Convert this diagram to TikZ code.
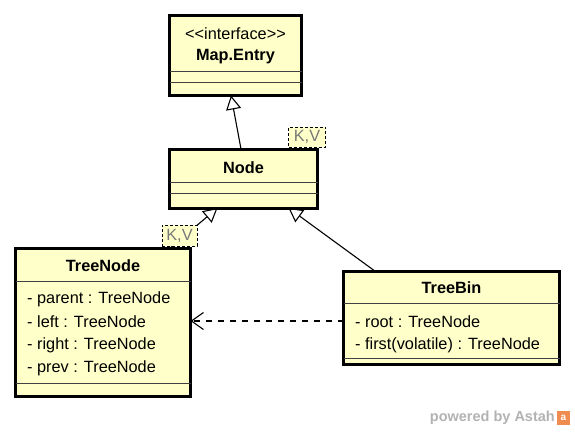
\documentclass[tikz,border=0pt]{standalone}
\usepackage{fontspec}
\setmainfont{Liberation Sans}
\usetikzlibrary{arrows.meta,calc}
\definecolor{umlfill}{RGB}{255,255,202}
\definecolor{kvgray}{RGB}{120,120,120}
\definecolor{wmgray}{RGB}{178,178,178}
\definecolor{astahorange}{RGB}{240,140,80}
\begin{document}
\begin{tikzpicture}[x=1pt,y=-1pt,
  classbox/.style={draw=black,fill=umlfill,line width=3pt,inner sep=0pt,outer sep=0pt},
  sepline/.style={draw=black!75,line width=1pt},
  kvbox/.style={draw=black,fill=umlfill,dashed,dash pattern=on 3pt off 2pt,line width=0.8pt,inner sep=0pt,outer sep=0pt,text=kvgray,font=\fontsize{16.3}{19}\selectfont},
  ctitle/.style={font=\bfseries\fontsize{16.3}{19}\selectfont,inner sep=0pt},
  ctext/.style={font=\fontsize{16.3}{19}\selectfont,inner sep=0pt},
  attr/.style={font=\fontsize{16.3}{19}\selectfont,inner sep=0pt,anchor=west},
  gen/.style={draw=black,line width=1.1pt,-{Triangle[length=14pt,width=15pt,fill=white,line width=1.1pt]}},
  dep/.style={draw=black,line width=1.1pt,dash pattern=on 6pt off 6pt,-{Straight Barb[length=12pt,width=17pt,line width=1.1pt]}}
]
\useasboundingbox (0,0) rectangle (575,432);

% class boxes
\node[classbox,minimum width=132pt,minimum height=80pt] (mapentry) at (235.5,55.5) {};
\node[classbox,minimum width=148pt,minimum height=59pt] (node) at (243.5,178.5) {};
\node[classbox,minimum width=175pt,minimum height=148pt] (treenode) at (103,322.5) {};
\node[classbox,minimum width=216pt,minimum height=93pt] (treebin) at (451.5,318) {};

% connectors
\draw[gen] ([xshift=-2.5pt]node.north) -- ([xshift=-4.5pt]mapentry.south);
\draw[gen] ([xshift=-21pt]treenode.north east) -- ([xshift=48pt]node.south west);
\draw[gen] ([xshift=32pt]treebin.north west) -- ([xshift=-29pt]node.south east);
\draw[dep] ([yshift=-3pt]treebin.west) -- ([yshift=1.5pt]treenode.east);

% redraw boxes on top of connector ends
\node[classbox,minimum width=148pt,minimum height=59pt] at (node) {};
\node[classbox,minimum width=175pt,minimum height=148pt] at (treenode) {};
\node[classbox,minimum width=216pt,minimum height=93pt] at (treebin) {};

% Map.Entry
\node[ctext] (mest) at (235.5,33.5) {{<}{<}interface{>}{>}};
\node[ctitle] (metitle) at (235.5,57) {Map.Entry};
\draw[sepline] (169.5,71) -- (301.5,71);
\draw[sepline] (169.5,82) -- (301.5,82);

% Node
\node[ctitle] (ntitle) at (243.5,168) {Node};
\draw[sepline] (169.5,182) -- (317.5,182);
\draw[sepline] (169.5,193) -- (317.5,193);
\node[kvbox,minimum width=37pt,minimum height=20pt] (kv1) at (307,137) {K,V};

% TreeNode
\node[ctitle] (tntitle) at (103,266) {TreeNode};
\draw[sepline] (15.5,281) -- (190.5,281);
\node[attr] (a1) at (27,299) {- parent : TreeNode};
\node[attr] (a2) at (27,322) {- left : TreeNode};
\node[attr] (a3) at (27,345) {- right : TreeNode};
\node[attr] (a4) at (27,368) {- prev : TreeNode};
\draw[sepline] (15.5,383) -- (190.5,383);
\node[kvbox,minimum width=35pt,minimum height=21pt] (kv2) at (179.5,235.5) {K,V};

% TreeBin
\node[ctitle] (tbtitle) at (451.5,288) {TreeBin};
\draw[sepline] (343.5,303) -- (559.5,303);
\node[attr] (b1) at (355,322) {- root : TreeNode};
\node[attr] (b2) at (355,345) {- first(volatile) : TreeNode};
\draw[sepline] (343.5,358) -- (559.5,358);

% watermark
\node[font=\bfseries\fontsize{14.5}{17}\selectfont,text=wmgray,inner sep=0pt,anchor=east] (wm) at (555,418) {powered by Astah};
\node[fill=astahorange,minimum width=13pt,minimum height=14pt,inner sep=0pt,text=white,font=\bfseries\fontsize{10}{10}\selectfont] (logo) at (563.5,418) {a};
\end{tikzpicture}
\end{document}
